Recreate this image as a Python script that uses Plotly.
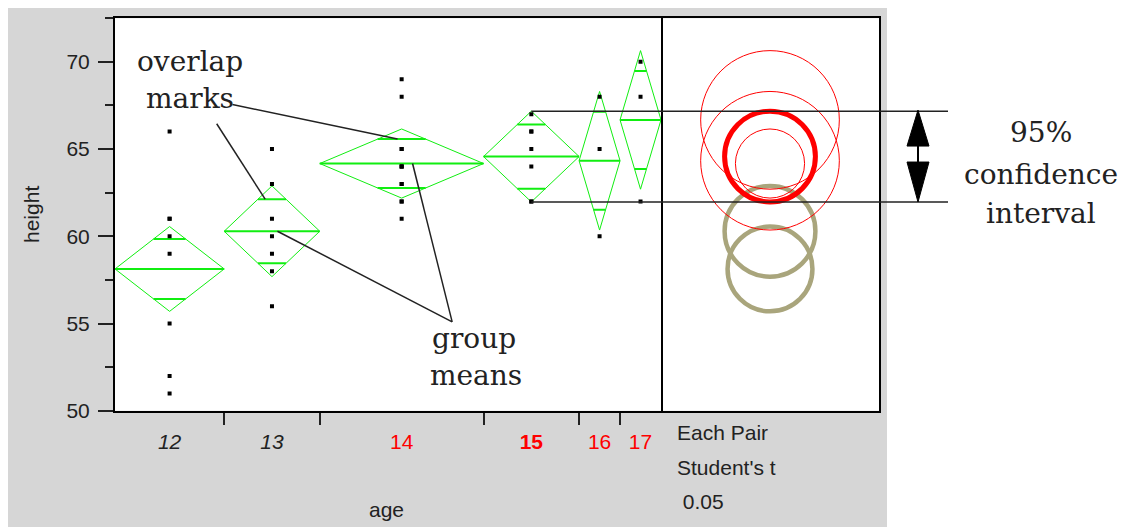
import math
import plotly.graph_objects as go

# Big Class style data: height by age
ages = [12, 13, 14, 15, 16, 17]
heights_12 = [59, 61, 55, 66, 52, 60, 61, 51]
heights_13 = [60, 61, 56, 65, 63, 58, 59]
heights_14 = [61, 62, 65, 63, 62, 63, 64, 65, 64, 68, 64, 69]
heights_15 = [62, 64, 67, 65, 66, 62, 66]
heights_16 = [60, 65, 68]
heights_17 = [62, 68, 70]
groups = [heights_12, heights_13, heights_14, heights_15, heights_16, heights_17]

means = [58.13, 60.29, 64.17, 64.57, 64.33, 66.67]
ci_half = [2.43, 2.60, 1.98, 2.60, 3.97, 3.97]
differs_from_15 = [True, True, False, False, False, False]
selected_age = 15

tick_labels = ["<i>12</i>", "<i>13</i>",
               "<span style='color:red'>14</span>",
               "<span style='color:red'><b>15</b></span>",
               "<span style='color:red'>16</span>",
               "<span style='color:red'>17</span>"]

# page body adds an 8px margin; the capture squeezes the page a little vertically
OFF = 8
VS = 0.98
W = 1126 - OFF
H = round(527 / VS - OFF)
def px(x):
    return (x - OFF) / W
def py(y):
    return 1 - (y / VS - OFF) / H

GREEN = "#11ee11"
KHAKI = "#a9a57c"
SANS = "Liberation Sans, Arial"
SERIF = "DejaVu Serif, serif"

# category widths proportional to group size
counts = [len(g) for g in groups]
edges = [0]
for c in counts:
    edges.append(edges[-1] + c)
centers = [(edges[i] + edges[i + 1]) / 2 for i in range(len(ages))]

fig = go.Figure()

for i, age in enumerate(ages):
    L, R, c = edges[i], edges[i + 1], centers[i]
    m, h = means[i], ci_half[i]
    # diamond
    fig.add_trace(go.Scatter(x=[L, c, R, c, L], y=[m, m + h, m, m - h, m], mode="lines",
                             line=dict(color=GREEN, width=1), hoverinfo="skip"))
    # mean line
    fig.add_trace(go.Scatter(x=[L, R], y=[m, m], mode="lines",
                             line=dict(color=GREEN, width=2), hoverinfo="skip"))
    # overlap marks
    hw = (R - L) / 2 * (1 - 1 / math.sqrt(2))
    for s in (1, -1):
        yy = m + s * h / math.sqrt(2)
        fig.add_trace(go.Scatter(x=[c - hw, c + hw], y=[yy, yy], mode="lines",
                                 line=dict(color=GREEN, width=2), hoverinfo="skip"))
    # points
    fig.add_trace(go.Scatter(x=[c] * len(groups[i]), y=groups[i], mode="markers",
                             marker=dict(symbol="square", size=4, color="black"),
                             hoverinfo="skip"))

# pixel size of one height unit on screen, used to keep the circles round
unit_px = (411 - 18) / 22.5

fig.update_layout(
    width=W, height=H, showlegend=False,
    margin=dict(l=0, r=0, t=0, b=0),
    paper_bgcolor="white", plot_bgcolor="white",
    font=dict(family=SANS, size=21, color="#222"),
    xaxis=dict(domain=[px(115), px(661)], range=[0, edges[-1]], anchor="y",
               showline=True, mirror=True, linecolor="black", linewidth=2,
               showgrid=False, zeroline=False,
               tickmode="array", tickvals=centers, ticktext=tick_labels,
               ticks="outside", ticklen=0, ticklabelstandoff=11,
               tickfont=dict(size=21, color="#222"),
               minor=dict(tickmode="array", tickvals=edges[1:-1], ticks="outside",
                          ticklen=12, tickwidth=2, tickcolor="#222", showgrid=False)),
    yaxis=dict(domain=[py(411), py(18)], range=[50, 72.5], anchor="x",
               showline=True, mirror=True, linecolor="black", linewidth=2,
               showgrid=False, zeroline=False, dtick=5,
               ticks="outside", ticklen=15, tickwidth=2, tickcolor="#222",
               ticklabelstandoff=4, tickfont=dict(size=21, color="#222"),
               minor=dict(dtick=2.5, ticks="outside", ticklen=8, tickwidth=2,
                          tickcolor="#222", showgrid=False)),
    xaxis2=dict(domain=[px(661), px(879)], range=[0, 218 / unit_px], anchor="y2",
                showline=True, mirror=True, linecolor="black", linewidth=2,
                showgrid=False, zeroline=False, showticklabels=False, ticks=""),
    yaxis2=dict(domain=[py(411), py(18)], range=[50, 72.5], anchor="x2", side="right",
                showline=True, mirror=False, linecolor="black", linewidth=2,
                showgrid=False, zeroline=False, showticklabels=False, ticks=""),
)

shapes = []
# gray report background with white plot frames
shapes.append(dict(type="rect", xref="paper", yref="paper", x0=px(7), x1=px(887),
                   y0=0, y1=py(4), fillcolor="#d6d6d6", line=dict(width=0), layer="below"))
shapes.append(dict(type="rect", xref="paper", yref="paper", x0=px(115), x1=px(879),
                   y0=py(411), y1=py(18), fillcolor="white", line=dict(width=0), layer="below"))

# comparison circles (drawn in data units on both axes)
cx = (770 - 661) / unit_px
order = [i for i in range(len(ages)) if differs_from_15[i]] + \
        [i for i in range(len(ages)) if not differs_from_15[i] and ages[i] != selected_age] + \
        [ages.index(selected_age)]
for i in order:
    m, r = means[i], ci_half[i]
    if differs_from_15[i]:
        col, w = KHAKI, 4.5
    elif ages[i] == selected_age:
        col, w = "red", 5
    else:
        col, w = "red", 1
    shapes.append(dict(type="circle", xref="x2", yref="y2", x0=cx - r, x1=cx + r,
                       y0=m - r, y1=m + r, line=dict(color=col, width=w)))

# CI lines of the selected group
k = ages.index(selected_age)
for yy in (means[k] + ci_half[k], means[k] - ci_half[k]):
    shapes.append(dict(type="line", xref="x", yref="y", x0=centers[k], x1=edges[-1],
                       y0=yy, y1=yy, line=dict(color="#222", width=1.5)))
    shapes.append(dict(type="line", xref="paper", yref="y", x0=px(661), x1=px(948),
                       y0=yy, y1=yy, line=dict(color="#222", width=1.5)))

# double arrow
ax = 918
shapes.append(dict(type="path", xref="paper", yref="paper",
                   path=f"M {px(ax)} {py(110)} L {px(ax - 11)} {py(146)} L {px(ax + 11)} {py(146)} Z",
                   fillcolor="black", line=dict(color="black", width=1)))
shapes.append(dict(type="path", xref="paper", yref="paper",
                   path=f"M {px(ax)} {py(202)} L {px(ax - 11)} {py(162)} L {px(ax + 11)} {py(162)} Z",
                   fillcolor="black", line=dict(color="black", width=1)))
shapes.append(dict(type="line", xref="paper", yref="paper", x0=px(ax), x1=px(ax),
                   y0=py(146), y1=py(162), line=dict(color="black", width=2)))

# pointer lines
ov14 = means[2] + ci_half[2] / math.sqrt(2)
ov13 = means[1] + ci_half[1] / math.sqrt(2)
pointers = [
    ((8.6, 67.55), (20.7, ov14)),
    ((7.45, 66.45), (11.0, ov13)),
    ((21.8, means[2]), (24.7, 55.1)),
    ((11.9, means[1]), (24.7, 55.1)),
]
for (x0, y0), (x1, y1) in pointers:
    shapes.append(dict(type="line", xref="x", yref="y", x0=x0, y0=y0, x1=x1, y1=y1,
                       line=dict(color="#222", width=1.5)))

fig.update_layout(shapes=shapes)

def note(text, x, y, size=21, family=SANS, xanchor="center", angle=0):
    fig.add_annotation(text=text, x=px(x), y=py(y), xref="paper", yref="paper",
                       showarrow=False, xanchor=xanchor, yanchor="middle", textangle=angle,
                       font=dict(family=family, size=size, color="#222"))

note("height", 31, 215, angle=-90)
note("age", 386, 510)
note("Each Pair", 675, 433, xanchor="left")
note("Student's t", 675, 468, xanchor="left")
note(" 0.05", 675, 502, xanchor="left")

note("overlap", 190, 61, size=28, family=SERIF)
note("marks", 190, 98, size=28, family=SERIF)
note("group", 474, 339, size=28, family=SERIF)
note("means", 476, 376, size=28, family=SERIF)
note("95%", 1041, 132, size=28, family=SERIF)
note("confidence", 1041, 174, size=28, family=SERIF)
note("interval", 1041, 213, size=28, family=SERIF)

fig.write_html("out.html")
